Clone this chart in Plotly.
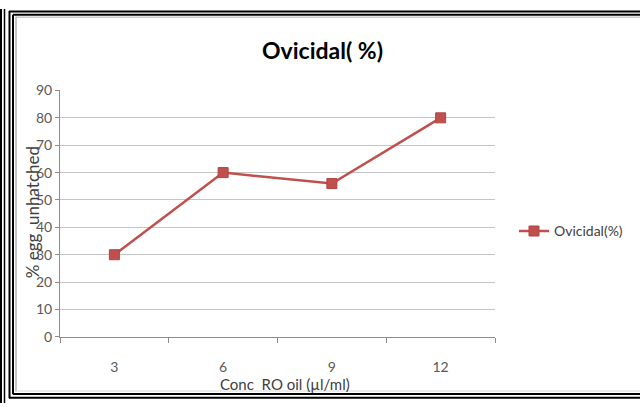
import plotly.graph_objects as go

# Ovicidal activity at each RO oil concentration
concentrations = ["3", "6", "9", "12"]
ovicidal_pct = [30, 60, 56, 80]
y_ticks = [0, 10, 20, 30, 40, 50, 60, 70, 80, 90]

W, H = 640, 411
FONT = "Lato"
RED = "#C0504D"


def px(x):
    return x / W


def py(y):
    return 1 - y / H


fig = go.Figure()
fig.add_trace(go.Scatter(
    x=concentrations, y=ovicidal_pct, mode="lines+markers",
    name="Ovicidal(%)",
    line=dict(color=RED, width=2.5),
    marker=dict(symbol="square", size=10, color=RED,
                line=dict(color="#B04440", width=1)),
))

# Decorative frame lines around the chart
shapes = []
def hline(y, x0, x1, color="black", w=2):
    shapes.append(dict(type="line", xref="paper", yref="paper",
                       x0=px(x0), x1=px(x1), y0=py(y), y1=py(y),
                       line=dict(color=color, width=w)))
def vline(x, y0, y1, color="black", w=2):
    shapes.append(dict(type="line", xref="paper", yref="paper",
                       x0=px(x), x1=px(x), y0=py(y0), y1=py(y1),
                       line=dict(color=color, width=w)))

vline(1, 0, 411, w=2)
vline(4.5, 0, 411, w=1.5)
vline(9.5, 2, 406, w=2)
vline(13, 6, 402, w=2)
hline(2.5, 9, 640, w=2)
hline(6, 13, 640, w=2)
hline(405.5, 9, 640, w=2)
hline(401.5, 13, 640, w=2)
vline(16, 8, 399, color="#b0b0b0", w=1.5)
hline(8.5, 16, 640, color="#b0b0b0", w=1)
hline(398.5, 16, 640, color="#d8d8d8", w=1)

fig.update_layout(
    width=W, height=H,
    margin=dict(l=0, r=0, t=0, b=0),
    paper_bgcolor="white", plot_bgcolor="white",
    font=dict(family=FONT, color="#595959", size=14),
    showlegend=True,
    legend=dict(x=px(514), y=py(232), xanchor="left", yanchor="middle",
                font=dict(family=FONT, size=14, color="#404040"),
                bgcolor="rgba(0,0,0,0)", itemwidth=30),
    shapes=shapes,
    xaxis=dict(
        domain=[px(60), px(495)], type="category",
        range=[-0.5, 3.5], tickson="boundaries",
        showline=True, linecolor="#8c8c8c", linewidth=1,
        ticks="outside", ticklen=5, tickcolor="#8c8c8c",
        ticklabelstandoff=17,
        showgrid=False, tickfont=dict(size=14, color="#595959"),
        fixedrange=True,
    ),
    yaxis=dict(
        domain=[py(342), py(85)], range=[0, 90],
        tickvals=y_ticks, ticktext=[str(v) for v in y_ticks],
        showline=True, linecolor="#8c8c8c", linewidth=1,
        ticks="outside", ticklen=4, tickcolor="#8c8c8c",
        showgrid=True, gridcolor="#c4c4c4", gridwidth=1,
        zeroline=False, tickfont=dict(size=14, color="#595959"),
        fixedrange=True,
    ),
    annotations=[
        dict(text="<b>Ovicidal( %)</b>", x=px(322), y=py(43),
             xref="paper", yref="paper", showarrow=False,
             font=dict(family=FONT, size=23, color="black"),
             xanchor="center", yanchor="middle"),
        dict(text="Conc  RO oil (µl/ml)", x=px(285), y=py(391),
             xref="paper", yref="paper", showarrow=False,
             font=dict(family=FONT, size=15, color="#404040"),
             xanchor="center", yanchor="middle"),
        dict(text="% egg  unhatched", x=px(32), y=py(212),
             xref="paper", yref="paper", showarrow=False, textangle=-90,
             font=dict(family=FONT, size=17, color="#404040"),
             xanchor="center", yanchor="middle"),
    ],
)

fig.write_html("out.html")
